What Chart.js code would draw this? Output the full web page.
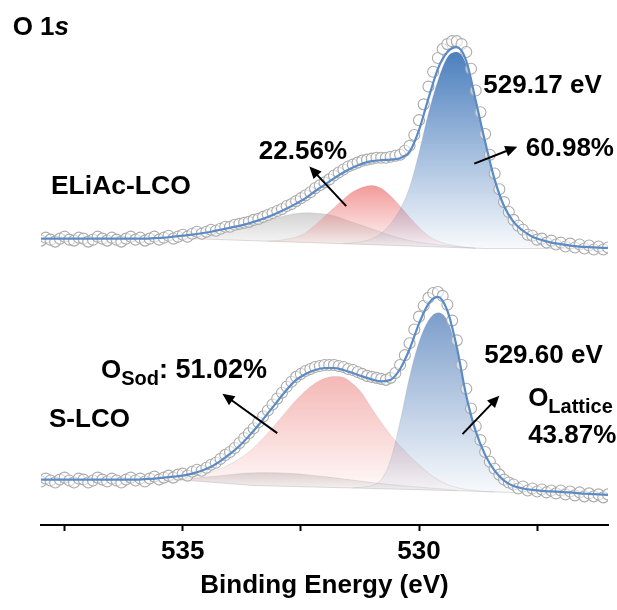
<!DOCTYPE html>
<html>
<head>
<meta charset="utf-8">
<script src="https://cdn.jsdelivr.net/npm/chart.js@4.4.1/dist/chart.umd.min.js"></script>
<style>
  html, body { margin: 0; padding: 0; background: #fff; }
  #wrap { width: 617px; height: 610px; }
</style>
</head>
<body>
<div id="wrap"><canvas id="xps" width="617" height="610"></canvas></div>
<script>
const FONT = "'Liberation Sans', Arial, sans-serif";

// binding energy grids (eV), high to low: 0.2 eV for fits, 0.1 eV for measured points
const fitEnergy = [];
for (let e = 5380; e >= 5260; e -= 2) fitEnergy.push(e / 10);
const expEnergy = [];
for (let e = 5380; e >= 5260; e -= 1) expEnergy.push(e / 10);

// x axis ticks (only the 5 eV ones carry a label)
const tickStep = 2.5;
const labelledTicks = [535, 530];

// ---- ELiAc-LCO (upper trace, offset intensity) ----
const elBaseE = [538, 534.8, 528.6, 526];
const elBaseY = [290, 290, 280, 280];
const elExp = [
  288,291,289,287,290,292,289,288,291,290, 287,289,292,290,288,291,289,287,290,292,
  289,291,288,290,292,289,291,293,290,292, 294,292,295,297,295,297,299,298,300,302,
  302,304,305,306,307,309,310,312,314,316, 318,320,323,325,328,331,334,337,341,344,
  347,350,354,357,360,363,365,367,369,370, 371,372,372,372,373,374,375,379,384,395,
  410,426,444,459,473,482,487,490,490,487, 479,462,440,418,396,375,356,340,327,317,
  309,303,299,294,293,289,290,286,288,284, 286,282,285,281,284,280,283,279,282,279,
  281
];
const elFit = [
  290,290,290,290,290,290,290,290,290,290, 290,290,290.5,291,292,293,294,295.5,297,299,
  301,303,305.5,308.5,312,316,320.5,325.5,331,338, 344.5,351,357,362,366,368.5,369.5,370,371.5,378,
  400,432,462,479,484,470,430,388,350,323, 307,298,292,288.5,286,284.5,283,282,281.5,281,
  280.5
];
const elGray = [
  null,null,null,null,null,null,null,null,null,null, null,null,290,291,291.5,292.5,293.5,294.7,295.9,297,
  298.7,300.4,303.1,305.7,308.4,311.1,313.8,315.5,316.1,315.8, 315,313.2,309.8,306.5,303.2,299.9,296.6,293.2,290.4,288.1,
  286.3,285,283.6,282.8,282,281.1,280.3,null,null,null, null,null,null,null,null,null,null,null,null,null,
  null
];
const elRed = [
  null,null,null,null,null,null,null,null,null,null, null,null,null,null,null,null,null,null,null,null,
  null,null,null,null,287.6,288.1,289.5,291.5,296,303.6, 312.5,321.2,330,337.5,342,343.9,341,333.2,322.9,311.6,
  301.3,292.8,287.6,284.4,282.6,281.1,280.3,null,null,null, null,null,null,null,null,null,null,null,null,null,
  null
];
const elBlue = [
  null,null,null,null,null,null,null,null,null,null, null,null,null,null,null,null,null,null,null,null,
  null,null,null,null,null,null,null,null,null,null, null,null,285.3,285.9,287.1,289.9,295.5,305.2,319.9,342,
  377,417,450,473.5,479,466.5,428.3,387,349,322, 306,297,291,287.5,285,283.5,282.5,281.5,281,280.5,
  280
];

// ---- S-LCO (lower trace) ----
const sBaseE = [538, 535, 533.5, 531, 529, 527.5, 526];
const sBaseY = [46, 45.5, 40, 37, 34.5, 32, 30.5];
const sExp = [
  44,47,45,43,46,48,45,43,47,46, 43,45,48,46,44,47,45,43,46,48,
  45,47,44,47,49,46,48,50,48,51, 52,50,54,56,55,58,61,63,67,71,
  74,78,83,88,93,98,104,110,116,122, 128,134,140,145,150,153,156,158,160,161,
  162,162,162,161,160,158,157,155,153,151, 150,149,148,147,149,154,162,172,184,198,
  211,222,230,235,236,232,223,207,187,162, 138,118,100,86,74,64,57,51,46,43,
  41,37,39,35,37,34,36,33,35,32, 35,31,34,30,33,29,32,29,31,28,
  31
];
const sFit = [
  46,46,46,46,46,46,46,46,46,46, 46,46.5,47,48,49,50,52,55,59,65,
  72,80,90,101,113,125,137,147,153,157, 159,159,157,154,150.5,147.5,145.5,147,158,178,
  204,224,231,217,180,131,95,71,55,45, 39.5,37,35.5,34.5,34,33.5,33,32,31.5,31,
  30.5
];
const sGray = [
  null,null,null,null,null,null,null,null,null,null, null,null,null,null,45.6,46.5,47.2,48,49,50,
  51,52,52.6,53,53,52.8,52.4,51.8,51,50, 49,47.8,46.6,45.4,44.2,43,42,41,40,39.2,
  38.4,37.6,36.8,36,35,null,null,null,null,null, null,null,null,null,null,null,null,null,null,null,
  null
];
const sRed = [
  null,null,null,null,null,null,null,null,null,null, null,null,null,45.6,46.5,47.5,49,51,53.5,57,
  61.5,67,74,83,93,104,115.5,126.5,136,143.5, 148.5,150.5,149.5,143,133,118,104,91,80,70,
  61,52.5,46,41,38,36,34.8,33.8,33.5,null, null,null,null,null,null,null,null,null,null,null,
  null
];
const sBlue = [
  null,null,null,null,null,null,null,null,null,null, null,null,null,null,null,null,null,null,null,null,
  null,null,null,null,null,null,null,null,null,null, null,null,null,37.5,38.5,40,46,66,105,150,
  185,207,215,207,176,128,93,70,54,44.5, 39,36.5,34.6,33.4,32.6,32,31.5,31.2,30.9,30.7,
  30.5
];

// text labels, anchored at their left edge (energy, intensity)
const notes = [
  { e: 538.6, v: 503, parts: [{ t: 'O 1' }, { t: 's', italic: true }] },
  { e: 528.64, v: 445, parts: [{ t: '529.17 eV' }] },
  { e: 527.74, v: 381, parts: [{ t: '60.98%' }] },
  { e: 533.39, v: 378, parts: [{ t: '22.56%' }] },
  { e: 537.79, v: 343, parts: [{ t: 'ELiAc-LCO', size: 26.5 }] },
  { e: 528.62, v: 171, parts: [{ t: '529.60 eV' }] },
  { e: 536.73, v: 156, parts: [{ t: 'O' }, { t: 'Sod', sub: true }, { t: ': 51.02%', size: 27 }] },
  { e: 537.83, v: 107, parts: [{ t: 'S-LCO' }] },
  { e: 527.69, v: 128, parts: [{ t: 'O' }, { t: 'Lattice', sub: true }] },
  { e: 527.69, v: 90, parts: [{ t: '43.87%' }] }
];
// arrows: tail energy, tail intensity, head energy, head intensity
const arrows = [
  [531.54, 323, 532.32, 363],
  [528.83, 366, 527.92, 383],
  [533.00, 93, 534.16, 133],
  [529.08, 92, 528.30, 131]
];

function toPoints(energy, values) {
  const out = [];
  values.forEach((v, i) => { if (v !== null) out.push({ x: energy[i], y: v }); });
  return out;
}

// vertical fade from the top of a component down to its baseline
function shade(rgb, alpha) {
  return (ctx) => {
    const chart = ctx.chart;
    if (!chart.chartArea) return 'rgba(' + rgb + ',0.3)';
    const ys = chart.data.datasets[ctx.datasetIndex].data.map(p => p.y);
    const yScale = chart.scales.y;
    const top = yScale.getPixelForValue(Math.max(...ys));
    const bottom = yScale.getPixelForValue(Math.min(...ys));
    const g = chart.ctx.createLinearGradient(0, top, 0, bottom + 1);
    g.addColorStop(0, 'rgba(' + rgb + ',' + alpha + ')');
    g.addColorStop(1, 'rgba(' + rgb + ',0.03)');
    return g;
  };
}

function spectrum(first, base, gray, red, blue, exp, fit, colors) {
  const part = (data, rgb, alpha, order) => ({
    data, order,
    fill: { target: first },
    backgroundColor: shade(rgb, alpha),
    borderColor: 'rgba(150,150,150,0.25)',
    borderWidth: 0.8,
    cubicInterpolationMode: 'monotone',
    pointRadius: 0
  });
  return [
    { data: base, order: 6, fill: false, borderColor: 'rgba(190,190,190,0.5)', borderWidth: 1, pointRadius: 0, tension: 0 },
    part(gray, colors.gray[0], colors.gray[1], 5),
    part(red, colors.red[0], colors.red[1], 4),
    part(blue, colors.blue[0], colors.blue[1], 3),
    {
      data: exp, order: 2, fill: false, showLine: false,
      pointStyle: 'circle', pointRadius: 5.5, pointBorderWidth: 1.1,
      pointBorderColor: '#ababab', pointBackgroundColor: 'rgba(255,255,255,0.55)'
    },
    {
      data: fit, order: 1, fill: false, borderColor: '#5b8bc6', borderWidth: 2.2,
      cubicInterpolationMode: 'monotone', pointRadius: 0
    }
  ];
}

const datasets = [
  ...spectrum(0,
    toPoints(elBaseE, elBaseY), toPoints(fitEnergy, elGray), toPoints(fitEnergy, elRed),
    toPoints(fitEnergy, elBlue), toPoints(expEnergy, elExp), toPoints(fitEnergy, elFit),
    { gray: ['175,175,175', 0.55], red: ['238,120,118', 0.75], blue: ['66,120,186', 0.95] }),
  ...spectrum(6,
    toPoints(sBaseE, sBaseY), toPoints(fitEnergy, sGray), toPoints(fitEnergy, sRed),
    toPoints(fitEnergy, sBlue), toPoints(expEnergy, sExp), toPoints(fitEnergy, sFit),
    { gray: ['175,175,175', 0.45], red: ['235,125,120', 0.55], blue: ['80,125,185', 0.75] })
];

function drawRich(ctx, parts, x, y) {
  ctx.textBaseline = 'middle';
  ctx.textAlign = 'left';
  parts.forEach(p => {
    const size = p.size || (p.sub ? 20 : 26);
    ctx.font = (p.italic ? 'italic ' : '') + 'bold ' + size + 'px ' + FONT;
    ctx.fillText(p.t, x, y + (p.sub ? 9 : 0));
    x += ctx.measureText(p.t).width;
  });
}

function drawArrow(ctx, x1, y1, x2, y2) {
  const ang = Math.atan2(y2 - y1, x2 - x1);
  const head = 12, half = 5.5;
  ctx.lineWidth = 2;
  ctx.beginPath();
  ctx.moveTo(x1, y1);
  ctx.lineTo(x2 - Math.cos(ang) * head * 0.8, y2 - Math.sin(ang) * head * 0.8);
  ctx.stroke();
  ctx.beginPath();
  ctx.moveTo(x2, y2);
  ctx.lineTo(x2 - Math.cos(ang) * head + Math.sin(ang) * half, y2 - Math.sin(ang) * head - Math.cos(ang) * half);
  ctx.lineTo(x2 - Math.cos(ang) * head - Math.sin(ang) * half, y2 - Math.sin(ang) * head + Math.cos(ang) * half);
  ctx.closePath();
  ctx.fill();
}

const annotate = {
  id: 'annotate',
  afterDraw(chart) {
    const { ctx, scales: { x, y } } = chart;
    ctx.save();
    ctx.fillStyle = '#000';
    ctx.strokeStyle = '#000';
    notes.forEach(n => drawRich(ctx, n.parts, x.getPixelForValue(n.e), y.getPixelForValue(n.v)));
    arrows.forEach(a => drawArrow(ctx,
      x.getPixelForValue(a[0]), y.getPixelForValue(a[1]),
      x.getPixelForValue(a[2]), y.getPixelForValue(a[3])));
    ctx.restore();
  }
};

new Chart(document.getElementById('xps'), {
  type: 'line',
  data: { datasets },
  options: {
    responsive: false,
    animation: false,
    events: [],
    layout: { padding: { left: 41, right: 9, top: 0, bottom: 0 } },
    plugins: { legend: { display: false }, tooltip: { enabled: false } },
    scales: {
      x: {
        type: 'linear', min: 526, max: 538, reverse: true,
        border: { display: true, color: '#000', width: 2 },
        grid: { display: true, drawOnChartArea: false, drawTicks: true, tickLength: 6, tickWidth: 2, tickColor: '#000' },
        ticks: {
          stepSize: tickStep, includeBounds: false, autoSkip: false, maxRotation: 0, padding: 5,
          color: '#000', font: { family: FONT, size: 26, weight: 'bold' },
          callback: v => labelledTicks.includes(v) ? String(v) : ''
        },
        title: {
          display: true, text: 'Binding Energy (eV)', color: '#000',
          font: { family: FONT, size: 26, weight: 'bold' }, padding: { top: 0, bottom: 9 }
        },
        afterFit: s => { s.height = 85; }
      },
      y: { display: false, min: 0, max: 525 }
    }
  },
  plugins: [annotate]
});
</script>
</body>
</html>
